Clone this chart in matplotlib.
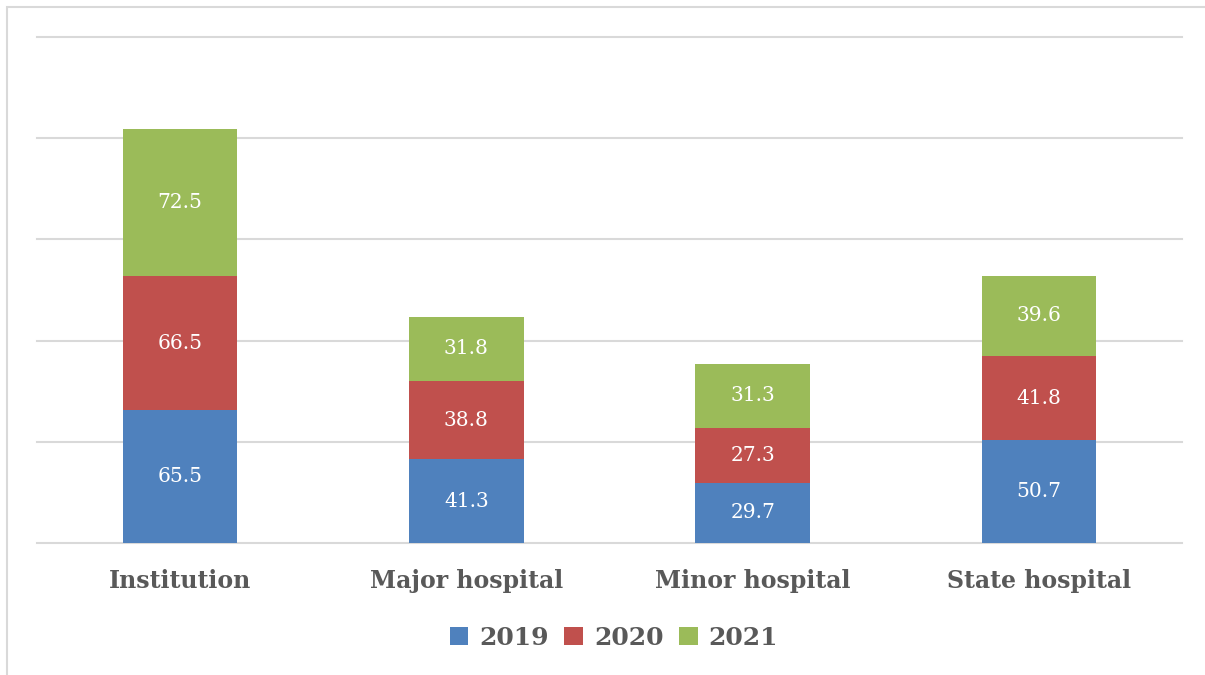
import matplotlib
matplotlib.use("Agg")
import matplotlib.pyplot as plt
import numpy as np
from matplotlib.patches import Rectangle, Patch

categories = ["Institution", "Major hospital", "Minor hospital", "State hospital"]
years = ["2019", "2020", "2021"]
v2019 = [65.5, 41.3, 29.7, 50.7]
v2020 = [66.5, 38.8, 27.3, 41.8]
v2021 = [72.5, 31.8, 31.3, 39.6]
colors = ["#4F81BD", "#C0504D", "#9BBB59"]

W, H = 1205, 675
fig = plt.figure(figsize=(W/100, H/100), dpi=100)
ax = fig.add_axes([37/W, 1-543/H, (1182-37)/W, (543-37)/H])

serif = ["DejaVu Serif"]
x = np.arange(len(categories))
bottom = np.zeros(len(categories))
for vals, col in zip([v2019, v2020, v2021], colors):
    vals = np.array(vals)
    ax.bar(x, vals, width=0.40, bottom=bottom, color=col, edgecolor="none", zorder=3)
    for xi, b, v in zip(x, bottom, vals):
        ax.text(xi, b + v/2, f"{v:.1f}", ha="center", va="center", color="white",
                fontsize=14.5, family=serif, zorder=4)
    bottom += vals

ax.set_xlim(-0.5, len(categories)-0.5)
ax.set_ylim(0, 250)
yt = np.arange(0, 251, 50)
ax.set_yticks(yt)
for y in yt:
    ax.axhline(y, color="#D9D9D9", linewidth=1.5, zorder=1, clip_on=False)
ax.set_yticklabels([])
ax.tick_params(axis="both", length=0)
for s in ax.spines.values():
    s.set_visible(False)
ax.set_xticks(x)
ax.set_xticklabels(categories, fontsize=17, fontweight="bold", color="#595959", family=serif)
ax.tick_params(axis="x", pad=19)

# outer frame
fig.patches.append(Rectangle((7/W, -0.1), 1.2, 1-7/H+0.1, transform=fig.transFigure,
                             fill=False, edgecolor="#D9D9D9", linewidth=1.5, figure=fig))

handles = [Patch(facecolor=c, edgecolor="none") for c in colors]
leg = fig.legend(handles, years, loc="center", bbox_to_anchor=(614/W, 1-638/H), ncol=3,
                 frameon=False, handlelength=0.75, handleheight=0.75, handletextpad=0.45,
                 columnspacing=0.6, prop={"family": serif, "weight": "bold", "size": 18})
for t in leg.get_texts():
    t.set_color("#595959")

fig.savefig("out.png", dpi=100, facecolor="white")
